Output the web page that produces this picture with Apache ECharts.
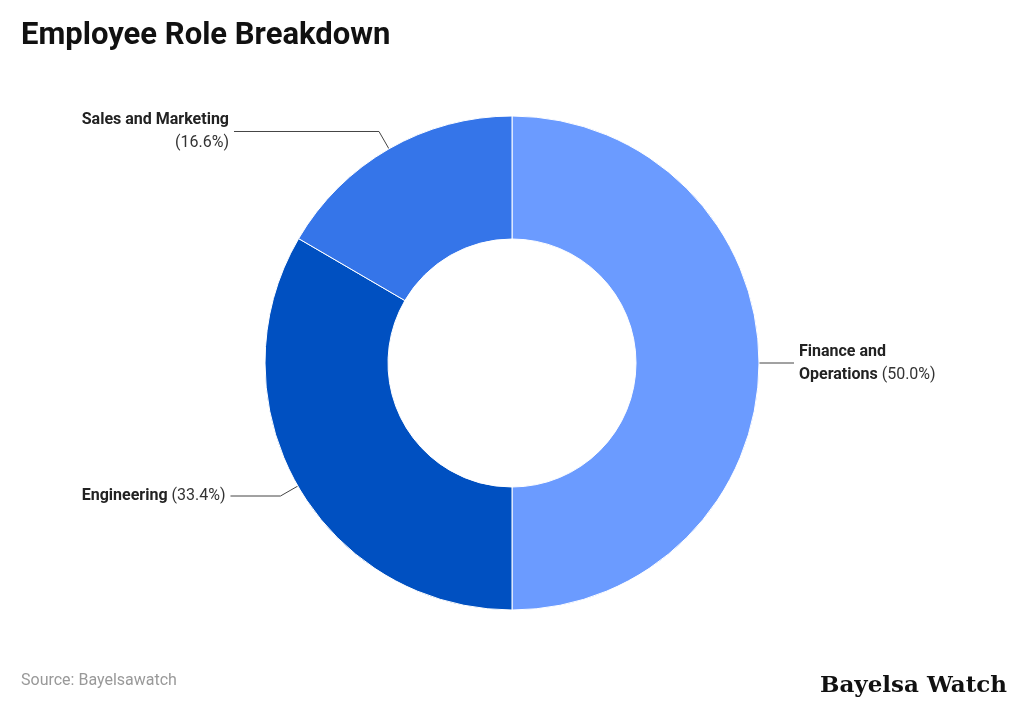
<!DOCTYPE html><html><head><meta charset="utf-8">
<script src="https://cdn.jsdelivr.net/npm/echarts@6/dist/echarts.min.js"></script>
<style>html,body{margin:0;background:#fff}#c{width:1024px;height:707px}</style></head><body><div id="c"></div>
<script>
const categories=["Finance and Operations","Engineering","Sales and Marketing"];
const values=[50.0,33.4,16.6];
const colors=["#6b9bff","#0050c1","#3575e9"];
const labelTexts=["{b|Finance and}\n{b|Operations} {n|(50.0%)}","{b|Engineering} {n|(33.4%)}","{b|Sales and Marketing}\n{n|(16.6%)}"];
const len2=[30,50,145];
const chart=echarts.init(document.getElementById('c'));
chart.setOption({
 title:[{text:"Employee Role Breakdown",left:16,top:16,textStyle:{fontFamily:"Roboto",fontWeight:"bold",fontSize:31,color:"#111"}},
 {text:"Source: Bayelsawatch",left:16,top:668,textStyle:{fontFamily:"Roboto",fontWeight:"normal",fontSize:16,color:"#999"}},
 {text:"Bayelsa Watch",right:12,top:670,textStyle:{fontFamily:"DejaVu Serif",fontWeight:"bold",fontSize:23,color:"#111"}}],
 series:[{type:"pie",center:[512,363],radius:[124,247],startAngle:90,clockwise:true,
  itemStyle:{borderColor:"#fff",borderWidth:1},
  label:{fontFamily:"Roboto",fontSize:16,color:"#222",lineHeight:23,
   rich:{b:{fontWeight:"bold",fontSize:16,color:"#222",fontFamily:"Roboto",lineHeight:23},n:{fontSize:16,color:"#333",fontFamily:"Roboto",lineHeight:23}}},
  labelLine:{lineStyle:{color:"#444",width:1}},
  data:categories.map((c,i)=>({name:c,value:values[i],itemStyle:{color:colors[i]},
   label:{formatter:labelTexts[i],align:i===0?"left":"right"},
   labelLine:{length:i===0?5:20,length2:len2[i]}}))}]
});
</script></body></html>
